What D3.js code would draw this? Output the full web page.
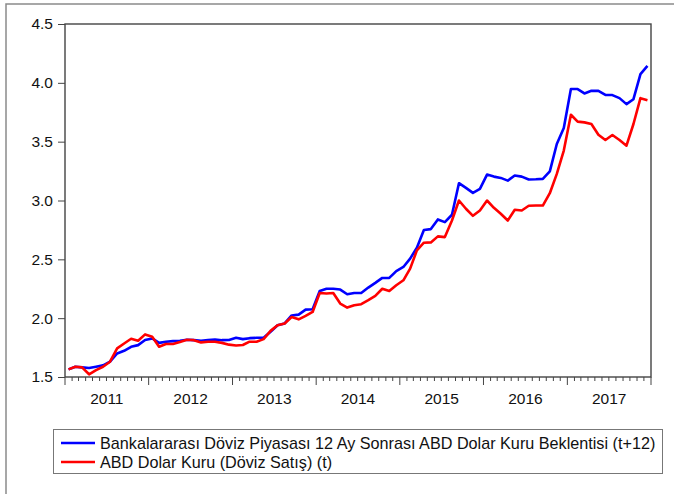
<!DOCTYPE html>
<meta charset="utf-8">
<script src="https://d3js.org/d3.v7.min.js"></script>
<style>
body { margin: 0; background: #fff; }
text { font-family: "Liberation Sans", Arial, sans-serif; fill: #111; }
</style>
<body>
<script>

// monthly observations, Jan 2011 .. Dec 2017
var startMonth = new Date(2011, 0, 1);
var yearLabels = ["2011", "2012", "2013", "2014", "2015", "2016", "2017"];
var yTicks = [1.5, 2.0, 2.5, 3.0, 3.5, 4.0, 4.5];

var seriesNames = [
  "Bankalararası Döviz Piyasası 12 Ay Sonrası ABD Dolar Kuru Beklentisi (t+12)",
  "ABD Dolar Kuru (Döviz Satış) (t)"
];

var expectation = [
  1.565, 1.587, 1.582, 1.576, 1.587, 1.599, 1.63, 1.70, 1.723, 1.757, 1.771, 1.814,
  1.828, 1.79, 1.80, 1.805, 1.808, 1.816, 1.813, 1.808, 1.813, 1.819, 1.813, 1.815,
  1.833, 1.822, 1.83, 1.833, 1.833, 1.884, 1.94, 1.955, 2.023, 2.03, 2.073, 2.076,
  2.231, 2.25, 2.25, 2.243, 2.203, 2.214, 2.214, 2.26, 2.30, 2.342, 2.342, 2.40,
  2.435, 2.506, 2.599, 2.75, 2.757, 2.839, 2.816, 2.879, 3.147, 3.107, 3.065, 3.099,
  3.22, 3.203, 3.192, 3.169, 3.212, 3.203, 3.178, 3.18, 3.184, 3.248, 3.48, 3.616,
  3.947, 3.947, 3.91, 3.932, 3.932, 3.898, 3.896, 3.87, 3.819, 3.861, 4.074, 4.144
];

var usdRate = [
  1.565, 1.587, 1.582, 1.523, 1.559, 1.587, 1.63, 1.743, 1.785, 1.825, 1.808, 1.862,
  1.842, 1.757, 1.78, 1.78, 1.797, 1.816, 1.813, 1.794, 1.80, 1.80, 1.79, 1.775,
  1.768, 1.772, 1.80, 1.80, 1.822, 1.892, 1.94, 1.955, 2.01, 1.99, 2.02, 2.053,
  2.214, 2.209, 2.214, 2.124, 2.09, 2.11, 2.119, 2.153, 2.189, 2.25, 2.231, 2.28,
  2.322, 2.421, 2.576, 2.641, 2.644, 2.695, 2.689, 2.83, 3.0, 2.93, 2.87, 2.915,
  3.0, 2.938, 2.887, 2.83, 2.921, 2.915, 2.955, 2.957, 2.957, 3.062, 3.226, 3.424,
  3.729, 3.67, 3.664, 3.65, 3.559, 3.514, 3.557, 3.514, 3.466, 3.65, 3.87, 3.853
];

var seriesColors = ["#0000ff", "#ff0000"];

var width = 674,
    height = 494;

var svg = d3.select("body").append("svg")
    .attr("width", width)
    .attr("height", height);

// outer frame (cropped at right and bottom)
svg.append("path")
    .attr("d", "M6," + height + "V4H" + width)
    .attr("fill", "none")
    .attr("stroke", "#8a8a8a")
    .attr("stroke-width", 1.5);

var plotL = 65, plotR = 651, plotT = 24, plotB = 377;

var months = expectation.map(function(v, i) { return d3.timeMonth.offset(startMonth, i); });

var x = d3.scaleTime()
    .domain([startMonth, d3.timeMonth.offset(startMonth, months.length)])
    .range([plotL, plotR]);

var y = d3.scaleLinear()
    .domain([1.5, 4.5])
    .range([plotB, plotT]);

// mid-month position for each observation
function xm(d) { return (x(d) + x(d3.timeMonth.offset(d, 1))) / 2; }

// y axis
var yAxis = svg.append("g")
    .attr("transform", "translate(" + plotL + ",0)")
    .call(d3.axisLeft(y).tickValues(yTicks).tickFormat(d3.format(".1f")).tickSize(7).tickPadding(5));
yAxis.select(".domain").remove();
yAxis.selectAll("line").attr("stroke", "#444");
yAxis.selectAll("text").style("font-size", "15.5px").attr("fill", "#111")
    .style("font-family", "'Liberation Sans', Arial, sans-serif");

// x axis: minor month ticks, major year ticks
var xg = svg.append("g").attr("transform", "translate(0," + plotB + ")");
xg.selectAll("line.minor")
    .data(d3.timeMonth.range(startMonth, d3.timeMonth.offset(startMonth, months.length + 1)))
    .enter().append("line")
    .attr("class", "minor")
    .attr("x1", function(d) { return x(d); })
    .attr("x2", function(d) { return x(d); })
    .attr("y1", 0)
    .attr("y2", function(d) { return d.getMonth() === 0 ? 8 : 4; })
    .attr("stroke", "#444")
    .attr("stroke-width", 1);

xg.selectAll("text.year")
    .data(yearLabels)
    .enter().append("text")
    .attr("class", "year")
    .attr("x", function(d) {
      var a = new Date(+d, 0, 1), b = new Date(+d + 1, 0, 1);
      return (x(a) + x(b)) / 2;
    })
    .attr("y", 27)
    .attr("text-anchor", "middle")
    .style("font-size", "15.5px")
    .text(function(d) { return d; });

// lines
var line = d3.line()
    .x(function(d, i) { return xm(months[i]); })
    .y(function(d) { return y(d); });

[expectation, usdRate].forEach(function(s, k) {
  svg.append("path")
      .datum(s)
      .attr("d", line)
      .attr("fill", "none")
      .attr("stroke", seriesColors[k])
      .attr("stroke-width", 2.6)
      .attr("stroke-linejoin", "round");
});

// plot frame
svg.append("rect")
    .attr("x", plotL)
    .attr("y", plotT)
    .attr("width", plotR - plotL)
    .attr("height", plotB - plotT)
    .attr("fill", "none")
    .attr("stroke", "#444")
    .attr("stroke-width", 1.4);

// legend
var lg = svg.append("g");
lg.append("rect")
    .attr("x", 53.5)
    .attr("y", 429.5)
    .attr("width", 609)
    .attr("height", 44)
    .attr("fill", "#fff")
    .attr("stroke", "#777")
    .attr("stroke-width", 1);

seriesNames.forEach(function(name, k) {
  var yy = 443 + k * 19;
  lg.append("line")
      .attr("x1", 61).attr("x2", 95)
      .attr("y1", yy).attr("y2", yy)
      .attr("stroke", seriesColors[k])
      .attr("stroke-width", 2.6);
  lg.append("text")
      .attr("x", 100)
      .attr("y", yy + 5.5)
      .style("font-size", "16.2px")
      .text(name);
});

</script>
</body>
